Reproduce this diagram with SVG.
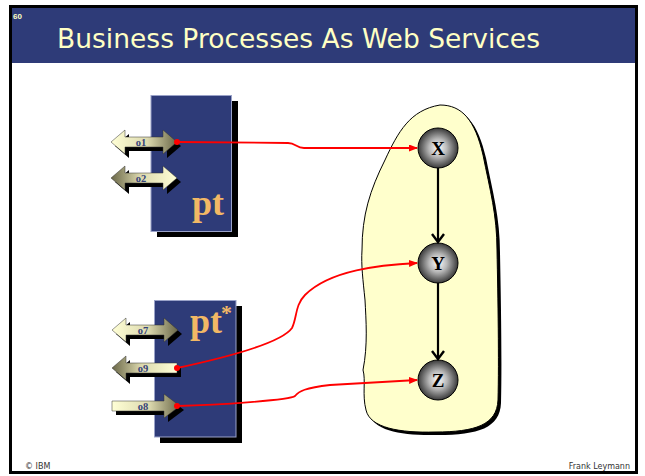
<svg xmlns="http://www.w3.org/2000/svg" xmlns:xlink="http://www.w3.org/1999/xlink" width="645" height="476" viewBox="0 0 645 476">
  <style>
    .title { font-family: "DejaVu Sans", "Liberation Sans", sans-serif; font-size: 27px; fill: #FFFFC4; }
    .pnum { font-family: "Liberation Sans", sans-serif; font-weight: bold; font-size: 8px; fill: #FFFFC4; }
    .foot { font-family: "DejaVu Sans", sans-serif; font-size: 8px; fill: #333; }
    .pt { font-family: "Liberation Serif", serif; font-weight: bold; font-size: 36px; fill: #F2B865; }
    .op { font-family: "Liberation Serif", serif; font-weight: bold; font-size: 10.5px; fill: #34427A; text-anchor: middle; }
    .nlabel { font-family: "Liberation Serif", serif; font-weight: bold; font-size: 19px; fill: #000; text-anchor: middle; }
    .box { fill: #2E3B78; stroke: #9AA2C8; stroke-width: 1; }
    .shadow { fill: #000; }
    .node { fill: url(#ball); stroke: #000; stroke-width: 1; }
    .call { fill: none; stroke: #FF0000; stroke-width: 1.8; marker-end: url(#redHead); }
    .flow { fill: none; stroke: #000; stroke-width: 2.2; marker-end: url(#openHead); }
    .opArrow { stroke: #333; stroke-width: 0.5; }
  </style>
  <defs>
    <linearGradient id="paleToDark" x1="0" y1="0" x2="1" y2="0">
      <stop offset="0" stop-color="#FFFFD6"/>
      <stop offset="0.55" stop-color="#DCD9AE"/>
      <stop offset="1" stop-color="#6A6748"/>
    </linearGradient>
    <linearGradient id="darkToPale" x1="0" y1="0" x2="1" y2="0">
      <stop offset="0" stop-color="#6A6748"/>
      <stop offset="0.45" stop-color="#DCD9AE"/>
      <stop offset="1" stop-color="#FFFFD6"/>
    </linearGradient>
    <radialGradient id="ball" cx="0.5" cy="0.5" r="0.5">
      <stop offset="0" stop-color="#FFFFFF"/>
      <stop offset="0.45" stop-color="#B8B8B8"/>
      <stop offset="1" stop-color="#3A3A3A"/>
    </radialGradient>
    <path id="dbl" d="M-33,0 L-19,-12 L-19,-5 L19,-5 L19,-12 L33,0 L19,12 L19,5 L-19,5 L-19,12 Z"/>
    <path id="left" d="M-33,0 L-19,-12 L-19,-5 L32,-5 L32,5 L-19,5 L-19,12 Z"/>
    <path id="right" d="M-33,-5 L19,-5 L19,-12 L35,0 L19,12 L19,5 L-33,5 Z"/>
    <marker id="redHead" markerWidth="9" markerHeight="7" refX="8" refY="3.5" orient="auto" markerUnits="userSpaceOnUse">
      <path d="M0,0 L9,3.5 L0,7 Z" fill="#FF0000"/>
    </marker>
    <marker id="openHead" markerWidth="12" markerHeight="16" refX="10" refY="7" orient="auto" markerUnits="userSpaceOnUse" viewBox="0 0 12 14">
      <path d="M2,1 L10,7 L2,13" fill="none" stroke="#000" stroke-width="2.4"/>
    </marker>
  </defs>

  <!-- page frame and header band -->
  <rect x="0" y="0" width="645" height="476" fill="#FFFFFF"/>
  <rect x="10.5" y="6.5" width="626" height="466" fill="#FFFFFF" stroke="#000" stroke-width="3"/>
  <rect x="12" y="8" width="623" height="55" fill="#2E3B78"/>
  <text class="pnum" x="13" y="19">60</text>
  <text class="title" x="57" y="48" textLength="483" lengthAdjust="spacingAndGlyphs">Business Processes As Web Services</text>
  <text class="foot" x="25" y="469">© IBM</text>
  <text class="foot" x="630" y="469" text-anchor="end">Frank Leymann</text>

  <!-- process container -->
  <g id="process">
    <path class="shadow" transform="translate(3,3)" d="M440,105 C462,105 475,120 483,155 C490,190 497,215 497,250 C498,300 499,360 498,400 C497,425 475,432 435,432 C400,433 370,428 366,410 C362,395 366,380 363,370 C368,345 366,320 365,300 C363,280 361,265 362,250 C362,215 370,190 385,160 C398,132 410,110 440,105 Z"/>
    <path fill="#FFFFCC" stroke="#000" stroke-width="1" d="M440,105 C462,105 475,120 483,155 C490,190 497,215 497,250 C498,300 499,360 498,400 C497,425 475,432 435,432 C400,433 370,428 366,410 C362,395 366,380 363,370 C368,345 366,320 365,300 C363,280 361,265 362,250 C362,215 370,190 385,160 C398,132 410,110 440,105 Z"/>
  </g>

  <!-- port type pt -->
  <g id="pt">
    <rect class="shadow" x="157" y="101" width="81" height="136"/>
    <rect class="box" x="151" y="95.5" width="80.5" height="136"/>
    <text class="pt" x="192" y="215">pt</text>
  </g>
  <g id="o1">
    <use href="#dbl" class="shadow" transform="translate(148,146)"/>
    <use href="#dbl" class="opArrow" fill="url(#paleToDark)" transform="translate(144,142)"/>
    <text class="op" x="141" y="145.5">o1</text>
  </g>
  <g id="o2">
    <use href="#dbl" class="shadow" transform="translate(148,182)"/>
    <use href="#dbl" class="opArrow" fill="url(#darkToPale)" transform="translate(144,178)"/>
    <text class="op" x="141" y="181.5">o2</text>
  </g>

  <!-- port type pt* -->
  <g id="ptStar">
    <rect class="shadow" x="160" y="306" width="82" height="137"/>
    <rect class="box" x="154.5" y="300.5" width="81.5" height="136.5"/>
    <text class="pt" x="190" y="333">pt</text>
    <text class="pt" x="221" y="320" style="font-size:22px">*</text>
  </g>
  <g id="o7">
    <use href="#dbl" class="shadow" transform="translate(149,334)"/>
    <use href="#dbl" class="opArrow" fill="url(#paleToDark)" transform="translate(145,330)"/>
    <text class="op" x="143" y="333.5">o7</text>
  </g>
  <g id="o9">
    <use href="#left" class="shadow" transform="translate(149,372)"/>
    <use href="#left" class="opArrow" fill="url(#darkToPale)" transform="translate(145,368)"/>
    <text class="op" x="143" y="371.5">o9</text>
  </g>
  <g id="o8">
    <use href="#right" class="shadow" transform="translate(149,410)"/>
    <use href="#right" class="opArrow" fill="url(#paleToDark)" transform="translate(145,406)"/>
    <text class="op" x="143" y="409.5">o8</text>
  </g>

  <!-- activities -->
  <g id="X">
    <circle class="node" cx="438" cy="148" r="20"/>
    <text class="nlabel" x="438" y="155">X</text>
  </g>
  <g id="Y">
    <circle class="node" cx="438" cy="263" r="20"/>
    <text class="nlabel" x="438" y="270">Y</text>
  </g>
  <g id="Z">
    <circle class="node" cx="438" cy="380" r="20"/>
    <text class="nlabel" x="438" y="387">Z</text>
  </g>

  <!-- connectors -->
  <g id="connectors">
    <path class="flow" d="M438,168 L438,242"/>
    <path class="flow" d="M438,283 L438,359"/>
    <path class="call" d="M177,142 L288,143 C296,143 296,148 304,148 L417,148"/>
    <path class="call" d="M177,368 C205,362 280,345 292,328 C297,318 295,305 305,295 C330,270 380,265 417,263"/>
    <path class="call" d="M177,406 C220,405 290,400 295,396 C299,391 305,388 330,385 L417,380"/>
    <circle cx="177" cy="142" r="3" fill="#FF0000"/>
    <circle cx="177" cy="368" r="3" fill="#FF0000"/>
    <circle cx="177" cy="406" r="3" fill="#FF0000"/>
  </g>
</svg>
